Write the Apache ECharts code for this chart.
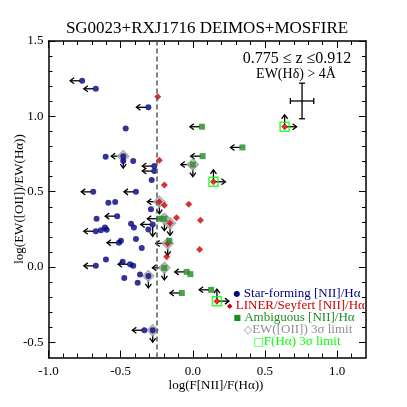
<!DOCTYPE html>
<html>
<head>
<meta charset="utf-8">
<script src="https://cdn.jsdelivr.net/npm/echarts@6/dist/echarts.min.js"></script>
<style>
html,body{margin:0;padding:0;background:#fff;}
#chart{width:407px;height:407px;}
</style>
</head>
<body>
<div id="chart"></div>
<script>
// [log(F[NII]/F(Ha)), log(EW([OII])/EW(Ha)), flags]
// flags: L/R/U/D = limit arrows, E = EW([OII]) 3 sigma limit, F = F(Ha) 3 sigma limit
const starForming = [
  [-0.767,1.236,'L'],[-0.672,1.183,'L'],[-0.308,1.060,'L'],[-0.465,0.920,''],
  [-0.604,0.732,''],[-0.482,0.736,'LDE'],[-0.482,0.703,''],[-0.413,0.703,''],
  [-0.267,0.670,'L'],[-0.267,0.637,'L'],[-0.285,0.577,''],[-0.690,0.499,'L'],
  [-0.394,0.499,'L'],[-0.585,0.426,''],[-0.538,0.432,''],[-0.290,0.384,''],
  [-0.524,0.338,'L'],[-0.667,0.321,''],[-0.428,0.288,''],[-0.408,0.262,''],
  [-0.278,0.283,'LD'],[-0.308,0.250,''],[-0.609,0.263,''],[-0.597,0.248,''],
  [-0.637,0.245,''],[-0.672,0.238,'L'],[-0.498,0.174,''],[-0.512,0.162,'L'],
  [-0.394,0.187,''],[-0.354,0.127,''],[-0.602,0.050,''],[-0.672,0.008,'L'],
  [-0.486,0.035,''],[-0.435,0.019,'L'],[-0.413,0.008,''],[-0.366,-0.049,''],
  [-0.308,-0.059,'DE'],[-0.475,-0.072,''],[-0.382,-0.104,''],[-0.336,-0.419,'L'],
  [-0.278,-0.419,'DE']
];
const linerSeyfert = [
  [-0.243,1.130,''],[-0.232,0.708,''],[-0.197,0.544,''],[-0.232,0.434,'LDE'],
  [-0.197,0.411,''],[-0.028,0.416,''],[-0.113,0.327,''],[0.053,0.311,''],
  [-0.158,0.290,'DE'],[-0.174,0.157,'LDE'],[-0.181,0.068,''],[0.047,0.117,''],
  [0.143,0.566,'URF'],[0.636,0.931,'URF'],[0.167,-0.226,'URF']
];
const ambiguous = [
  [0.063,0.931,'L'],[0.344,0.794,'L'],[0.068,0.736,'L'],[0.000,0.680,'LDE'],
  [-0.232,0.321,'L'],[-0.197,0.321,'DE'],[-0.163,0.174,''],[-0.197,-0.005,'LDE'],
  [-0.042,-0.032,'L'],[-0.017,-0.047,''],[-0.076,-0.172,'L'],[0.127,-0.151,'L']
];
// typical error: [x, y, dx, dy]
const typicalError = [[0.757, 1.102, 0.081, 0.118]];
const niiCut = -0.25;

const xMajor = [-1.0, -0.5, 0.0, 0.5, 1.0];
const xMinor = [-0.9,-0.8,-0.7,-0.6,-0.4,-0.3,-0.2,-0.1,0.1,0.2,0.3,0.4,0.6,0.7,0.8,0.9,1.1];
const yMajor = [-0.5, 0.0, 0.5, 1.0, 1.5];
const yMinor = [-0.4,-0.3,-0.2,-0.1,0.1,0.2,0.3,0.4,0.6,0.7,0.8,0.9,1.1,1.2,1.3,1.4];

const serif = 'Liberation Serif';
const allPoints = starForming.concat(linerSeyfert, ambiguous);
const xy = d => [d[0], d[1]];
const has = f => d => d[2].indexOf(f) >= 0;

function arrow(p, dir) {
  const d = {L:[-1,0], R:[1,0], U:[0,-1], D:[0,1]}[dir];
  const a = [p[0] + d[0] * 2, p[1] + d[1] * 2];
  const b = [p[0] + d[0] * 12, p[1] + d[1] * 12];
  const h = 4, w = 3;
  const h1 = [b[0] - d[0] * h - d[1] * w, b[1] - d[1] * h + d[0] * w];
  const h2 = [b[0] - d[0] * h + d[1] * w, b[1] - d[1] * h - d[0] * w];
  const st = {stroke: '#000', lineWidth: 1.3, fill: null};
  return [
    {type: 'line', shape: {x1: a[0], y1: a[1], x2: b[0], y2: b[1]}, style: st},
    {type: 'polyline', shape: {points: [h1, b, h2]}, style: st}
  ];
}

function xAx(pos, values, len, showLine, showLabel) {
  return {
    type: 'value', min: -1.0, max: 1.2, position: pos,
    axisLine: {show: showLine, onZero: false, lineStyle: {color: '#000', width: 1.5}},
    axisTick: {show: true, inside: true, length: len, customValues: values, lineStyle: {color: '#000', width: 1}},
    axisLabel: {show: showLabel, customValues: xMajor, formatter: v => v.toFixed(1),
      fontFamily: serif, fontSize: 13, color: '#000', margin: 8},
    splitLine: {show: false}
  };
}
function yAx(pos, values, len, showLine, showLabel) {
  return {
    type: 'value', min: -0.6, max: 1.5, position: pos,
    axisLine: {show: showLine, onZero: false, lineStyle: {color: '#000', width: 1.5}},
    axisTick: {show: true, inside: true, length: len, customValues: values, lineStyle: {color: '#000', width: 1}},
    axisLabel: {show: showLabel, customValues: yMajor, formatter: v => v.toFixed(1),
      fontFamily: serif, fontSize: 13, color: '#000', margin: 5},
    splitLine: {show: false}
  };
}

const chart = echarts.init(document.getElementById('chart'));
chart.setOption({
  animation: false,
  backgroundColor: '#fff',
  grid: {left: 48.5, right: 41, top: 41, bottom: 49.5, outerBoundsMode: 'none'},
  xAxis: [
    xAx('bottom', xMajor, 7, true, true),
    xAx('bottom', xMinor, 4, false, false),
    xAx('top', xMajor, 7, true, false),
    xAx('top', xMinor, 4, false, false)
  ],
  yAxis: [
    yAx('left', yMajor, 7, true, true),
    yAx('left', yMinor, 4, false, false),
    yAx('right', yMajor, 7, true, false),
    yAx('right', yMinor, 4, false, false)
  ],
  graphic: [
    {type: 'text', x: 207, y: 29, style: {text: 'SG0023+RXJ1716 DEIMOS+MOSFIRE', align: 'center', verticalAlign: 'middle',
      fill: '#000', font: '17px "Liberation Serif"'}},
    {type: 'text', x: 216, y: 386, style: {text: 'log(F[NII]/F(H\u03b1))', align: 'center', verticalAlign: 'middle',
      fill: '#000', font: '13px "Liberation Serif"'}},
    {type: 'text', x: 20, y: 199, rotation: Math.PI / 2, style: {text: 'log(EW([OII])/EW(H\u03b1))', align: 'center',
      verticalAlign: 'middle', fill: '#000', font: '13px "Liberation Serif"'}},
    {type: 'text', x: 297, y: 59, style: {text: '0.775 \u2264 z \u22640.912', align: 'center', verticalAlign: 'middle',
      fill: '#000', font: '16px "Liberation Serif"'}},
    {type: 'text', x: 296, y: 74, style: {text: 'EW(H\u03b4) > 4\u00c5', align: 'center', verticalAlign: 'middle',
      fill: '#000', font: '14px "Liberation Serif"'}},
    {type: 'text', x: 297, y: 294, style: {text: '{s|\u25cf} Star-forming [NII]/H\u03b1', align: 'center', verticalAlign: 'middle',
      fill: '#000080', font: '13px "Liberation Serif"', rich: {s: {fontFamily: 'DejaVu Sans', fontSize: 8, fill: '#000080'}}}},
    {type: 'text', x: 296, y: 306, style: {text: '{s|\u25c6} LINER/Seyfert [NII]/H\u03b1', align: 'center', verticalAlign: 'middle',
      fill: '#cc0000', font: '13px "Liberation Serif"', rich: {s: {fontFamily: 'DejaVu Sans', fontSize: 7, fill: '#cc0000'}}}},
    {type: 'text', x: 294, y: 318, style: {text: '{s|\u25a0} Ambiguous [NII]/H\u03b1', align: 'center', verticalAlign: 'middle',
      fill: '#228b22', font: '13px "Liberation Serif"', rich: {s: {fontFamily: 'DejaVu Sans', fontSize: 8, fill: '#228b22'}}}},
    {type: 'text', x: 298, y: 330, style: {text: '{s|\u25c7}EW([OII]) 3\u03c3 limit', align: 'center', verticalAlign: 'middle',
      fill: '#909090', font: '13px "Liberation Serif"', rich: {s: {fontFamily: 'DejaVu Sans', fontSize: 11, fill: '#909090'}}}},
    {type: 'text', x: 297, y: 342, style: {text: '{s|\u25a1}F(H\u03b1) 3\u03c3 limit', align: 'center', verticalAlign: 'middle',
      fill: '#00ff00', font: '13px "Liberation Serif"', rich: {s: {fontFamily: 'DejaVu Sans', fontSize: 11, fill: '#00ff00'}}}}
  ],
  series: [
    {
      type: 'custom', name: 'limits', z: 2,
      data: allPoints.map(xy),
      renderItem: function (params, api) {
        const d = allPoints[params.dataIndex];
        const p = api.coord([d[0], d[1]]);
        let children = [];
        ['L', 'R', 'U', 'D'].forEach(f => { if (d[2].indexOf(f) >= 0) children = children.concat(arrow(p, f)); });
        return {type: 'group', children: children};
      }
    },
    {
      type: 'custom', name: 'error', z: 2,
      data: typicalError.map(xy),
      renderItem: function (params, api) {
        const e = typicalError[params.dataIndex];
        const l = api.coord([e[0] - e[2], e[1]]), r = api.coord([e[0] + e[2], e[1]]);
        const t = api.coord([e[0], e[1] + e[3]]), b = api.coord([e[0], e[1] - e[3]]);
        const st = {stroke: '#000', lineWidth: 1.3};
        const c = 3;
        return {type: 'group', children: [
          {type: 'line', shape: {x1: l[0], y1: l[1], x2: r[0], y2: r[1]}, style: st},
          {type: 'line', shape: {x1: t[0], y1: t[1], x2: b[0], y2: b[1]}, style: st},
          {type: 'line', shape: {x1: l[0], y1: l[1] - c, x2: l[0], y2: l[1] + c}, style: st},
          {type: 'line', shape: {x1: r[0], y1: r[1] - c, x2: r[0], y2: r[1] + c}, style: st},
          {type: 'line', shape: {x1: t[0] - c, y1: t[1], x2: t[0] + c, y2: t[1]}, style: st},
          {type: 'line', shape: {x1: b[0] - c, y1: b[1], x2: b[0] + c, y2: b[1]}, style: st}
        ]};
      }
    },
    {
      type: 'scatter', name: 'EW limit', z: 3, symbol: 'diamond', symbolSize: 11,
      data: allPoints.filter(has('E')).map(xy),
      itemStyle: {color: '#c8c8c8', borderColor: '#a0a0a0', borderWidth: 1.5},
      markLine: {
        silent: true, symbol: ['none', 'none'], label: {show: false},
        lineStyle: {type: [5, 3], color: '#555', width: 1.5},
        data: [{xAxis: niiCut}]
      }
    },
    {
      type: 'scatter', name: 'Star-forming', z: 4, symbol: 'circle', symbolSize: 6,
      data: starForming.map(xy), itemStyle: {color: '#000080'}
    },
    {
      type: 'scatter', name: 'LINER/Seyfert', z: 4, symbol: 'diamond', symbolSize: 7,
      data: linerSeyfert.map(xy), itemStyle: {color: '#cc0000'}
    },
    {
      type: 'scatter', name: 'Ambiguous', z: 4, symbol: 'rect', symbolSize: 6,
      data: ambiguous.map(xy), itemStyle: {color: '#228b22'}
    },
    {
      type: 'scatter', name: 'F(Ha) limit', z: 5, symbol: 'rect', symbolSize: 9,
      data: allPoints.filter(has('F')).map(xy),
      itemStyle: {color: 'rgba(0,0,0,0)', borderColor: '#00ff00', borderWidth: 1.5}
    }
  ]
});
</script>
</body>
</html>
